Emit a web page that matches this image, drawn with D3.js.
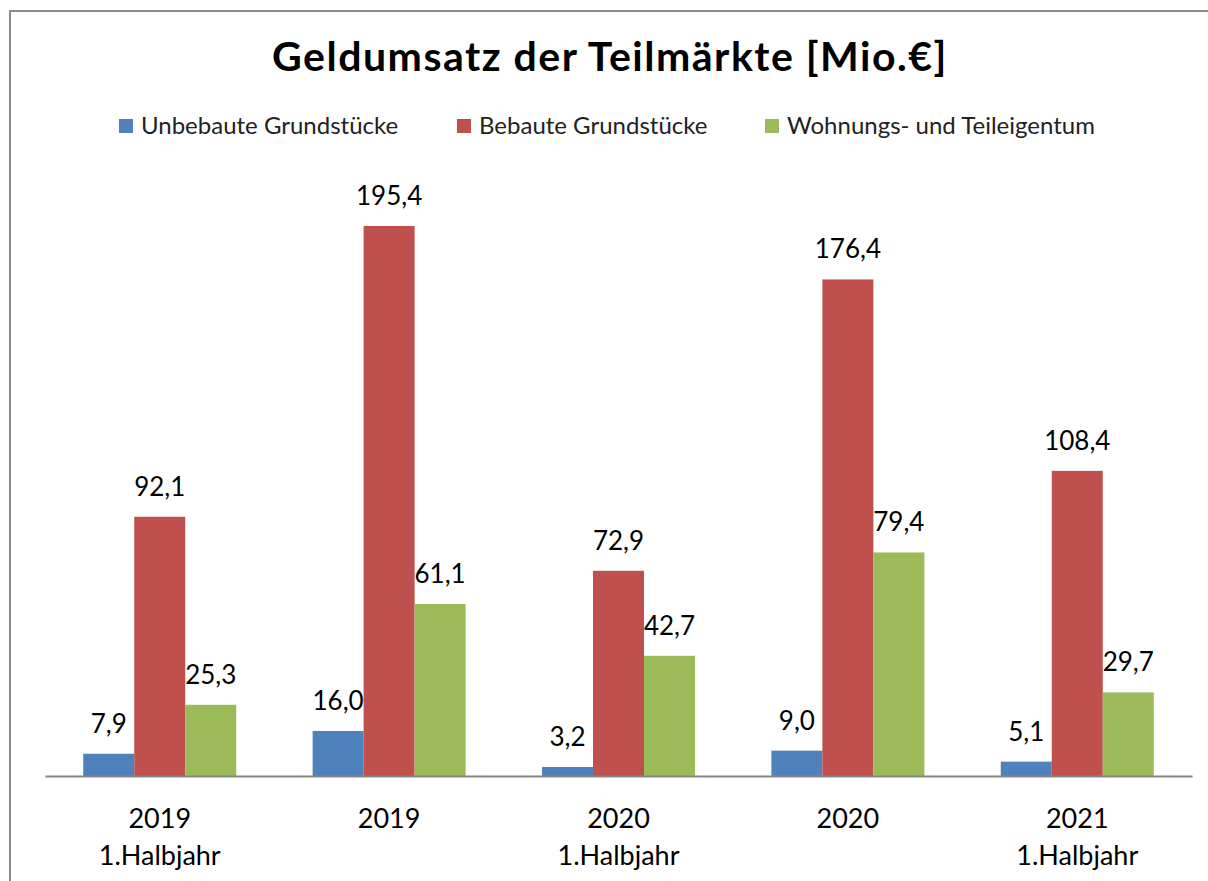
<!DOCTYPE html>
<html>
<head>
<meta charset="utf-8">
<script src="https://cdn.jsdelivr.net/npm/d3@7"></script>
<style>
body { margin: 0; background: #fff; }
text { font-family: Lato, "Open Sans", sans-serif; }
</style>
</head>
<body>
<div id="chart"></div>
<script>
// data
var periods = ["2019|1.Halbjahr", "2019|", "2020|1.Halbjahr", "2020|", "2021|1.Halbjahr"];
var seriesNames = ["Unbebaute Grundstücke", "Bebaute Grundstücke", "Wohnungs- und Teileigentum"];
var unbebaut = [7.9, 16.0, 3.2, 9.0, 5.1];
var bebaut = [92.1, 195.4, 72.9, 176.4, 108.4];
var wohnung = [25.3, 61.1, 42.7, 79.4, 29.7];
var colors = ["#4F81BD", "#C0504D", "#9BBB59"];

var width = 1208, height = 881;
var svg = d3.select("#chart").append("svg")
    .attr("width", width)
    .attr("height", height);

// frame
svg.append("path")
    .attr("d", "M10," + height + " V11 H" + width)
    .attr("fill", "none")
    .attr("stroke", "#8c8c8c")
    .attr("stroke-width", 2);

svg.append("text")
    .attr("x", 610)
    .attr("y", 71)
    .attr("text-anchor", "middle")
    .style("font-size", "41px")
    .style("font-weight", "bold")
    .style("letter-spacing", "1.5px")
    .text("Geldumsatz der Teilmärkte [Mio.€]");

// legend
var legendX = [119, 457, 765];
var legend = svg.selectAll(".legend")
    .data(seriesNames)
    .enter().append("g")
    .attr("class", "legend")
    .attr("transform", function(d, i) { return "translate(" + legendX[i] + ",119)"; });
legend.append("rect")
    .attr("width", 14).attr("height", 14)
    .attr("fill", function(d, i) { return colors[i]; });
legend.append("text")
    .attr("x", 22).attr("y", 15)
    .style("font-size", "24px")
    .style("fill", "#222")
    .text(function(d) { return d; });

var x0 = d3.scaleBand()
    .domain(periods)
    .range([45, 1192])
    .paddingInner(0.333)
    .paddingOuter(0.1667);

var x1 = d3.scaleBand()
    .domain([0, 1, 2])
    .range([0, x0.bandwidth()]);

var y = d3.scaleLinear()
    .domain([0, 200])
    .range([776, 213]);

var rows = periods.map(function(p, i) {
    return {period: p, values: [unbebaut[i], bebaut[i], wohnung[i]]};
});

var groups = svg.selectAll(".group")
    .data(rows)
    .enter().append("g")
    .attr("class", "group")
    .attr("transform", function(d) { return "translate(" + x0(d.period) + ",0)"; });

groups.selectAll("rect")
    .data(function(d) { return d.values; })
    .enter().append("rect")
    .attr("x", function(d, i) { return x1(i); })
    .attr("y", function(d) { return y(d); })
    .attr("width", x1.bandwidth())
    .attr("height", function(d) { return y(0) - y(d); })
    .attr("fill", function(d, i) { return colors[i]; });

groups.selectAll(".val")
    .data(function(d) { return d.values; })
    .enter().append("text")
    .attr("class", "val")
    .attr("x", function(d, i) { return x1(i) + x1.bandwidth() / 2; })
    .attr("y", function(d) { return y(d) - 21; })
    .attr("text-anchor", "middle")
    .style("font-size", "26px")
    .text(function(d) { return d.toFixed(1).replace(".", ","); });

// x axis
var xAxis = svg.append("g")
    .attr("transform", "translate(0,776)")
    .call(d3.axisBottom(x0).tickSize(0).tickFormat(""));
xAxis.select(".domain")
    .attr("stroke", "#868686")
    .attr("stroke-width", 2);

var lbl = svg.selectAll(".xlabel")
    .data(periods)
    .enter().append("text")
    .attr("class", "xlabel")
    .attr("text-anchor", "middle")
    .attr("x", function(d) { return x0(d) + x0.bandwidth() / 2; })
    .attr("y", 828)
    .style("font-size", "27px");
lbl.append("tspan")
    .attr("x", function(d) { return x0(d) + x0.bandwidth() / 2; })
    .text(function(d) { return d.split("|")[0]; });
lbl.append("tspan")
    .attr("x", function(d) { return x0(d) + x0.bandwidth() / 2; })
    .attr("dy", 37)
    .text(function(d) { return d.split("|")[1]; });
</script>
</body>
</html>
